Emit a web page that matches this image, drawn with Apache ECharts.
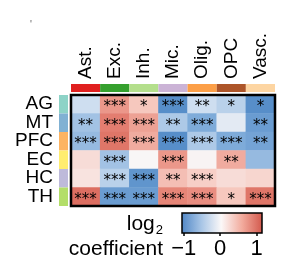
<!DOCTYPE html>
<html><head><meta charset="utf-8">
<script src="https://cdn.jsdelivr.net/npm/echarts@6/dist/echarts.min.js"></script>
<style>html,body{margin:0;padding:0;background:#fff}#c{width:289px;height:270px}</style>
</head><body><div id="c"></div>
<script>
const cellTypes = ['Ast.', 'Exc.', 'Inh.', 'Mic.', 'Olig.', 'OPC', 'Vasc.'];
const regions = ['AG', 'MT', 'PFC', 'EC', 'HC', 'TH'];
const cellTypeColors = ['#e0201f', '#35a02e', '#b4df8c', '#cbb3d6', '#fc9f47', '#ad5529', '#fdd5a2'];
const regionColors = ['#8dd3c7', '#80b1d3', '#fdb462', '#ffed6f', '#bebada', '#b3de69'];
// log2 coefficients, rows = regions, cols = cell types
const AG  = [-0.30, 0.60, 0.35, -0.85, -0.30, -0.40, -0.85];
const MT  = [-0.50, 0.75, 0.55, -0.45, -0.65, -0.15, -0.75];
const PFC = [-0.55, 0.80, 0.50, -0.85, -0.45, -0.65, -0.70];
const EC  = [ 0.20, -0.50, 0.00, 0.60, 0.02, 0.50, -0.55];
const HC  = [ 0.15, -0.40, -0.80, 0.40, 0.30, 0.20, 0.25];
const TH  = [ 0.85, -0.75, -0.75, 0.70, 0.65, 0.35, 0.80];
const sigAG  = ['', '***', '*', '***', '**', '*', '*'];
const sigMT  = ['**', '***', '***', '**', '***', '', '**'];
const sigPFC = ['***', '***', '***', '***', '***', '***', '**'];
const sigEC  = ['', '***', '', '***', '', '**', ''];
const sigHC  = ['', '***', '***', '**', '***', '', ''];
const sigTH  = ['***', '***', '***', '***', '***', '*', '***'];
const colorbarTicks = [-1, 0, 1];

const values = [AG, MT, PFC, EC, HC, TH];
const sigs = [sigAG, sigMT, sigPFC, sigEC, sigHC, sigTH];
const heatData = [];
values.forEach((row, r) => row.forEach((v, c) => heatData.push([c, r, v, sigs[r][c]])));

const HM = {left: 71, top: 95, width: 204, height: 111};
const font = 'Liberation Sans, Arial, sans-serif';
const rampColors = ['#3a78bd', '#7aa8d8', '#c9dbef', '#f8f6f6', '#f7cbc2', '#e88a7c', '#d2574b'];

const chart = echarts.init(document.getElementById('c'));
chart.setOption({
  animation: false,
  grid: [
    {left: HM.left, top: HM.top, width: HM.width, height: HM.height},
    {left: HM.left, top: 84, width: HM.width, height: 8},
    {left: 59, top: HM.top, width: 9, height: HM.height},
    {left: 182, top: 213, width: 80, height: 20, show: true, borderColor: '#000', borderWidth: 1.5,
     backgroundColor: new echarts.graphic.LinearGradient(0, 0, 1, 0, [
       {offset: 0, color: '#4f86c6'}, {offset: 0.25, color: '#a9c6e6'},
       {offset: 0.49, color: '#fbf8f8'}, {offset: 0.75, color: '#f2aa9c'},
       {offset: 1, color: '#d2574b'}])}
  ],
  xAxis: [
    {gridIndex: 0, type: 'category', data: cellTypes, show: false},
    {gridIndex: 1, type: 'category', data: cellTypes, position: 'top',
     axisLine: {show: false}, axisTick: {show: false},
     axisLabel: {interval: 0, rotate: 90, margin: 5, fontSize: 19, color: '#000', fontFamily: font}},
    {gridIndex: 2, type: 'value', min: 0, max: 1, show: false},
    {gridIndex: 3, type: 'value', min: -1.05, max: 1.15, splitLine: {show: false},
     axisLine: {show: false},
     axisTick: {show: true, customValues: colorbarTicks, length: 3, lineStyle: {color: '#000', width: 1.5}},
     axisLabel: {customValues: colorbarTicks, margin: 5, fontSize: 22, color: '#000', fontFamily: font,
       formatter: v => v < 0 ? '\u2212' + Math.abs(v) : String(v)}}
  ],
  yAxis: [
    {gridIndex: 0, type: 'category', data: regions, inverse: true, show: false},
    {gridIndex: 1, type: 'value', min: 0, max: 1, show: false},
    {gridIndex: 2, type: 'category', data: regions, inverse: true,
     axisLine: {show: false}, axisTick: {show: false},
     axisLabel: {interval: 0, margin: 6, fontSize: 19, lineHeight: 19, color: '#000', fontFamily: font, padding: [4, 0, 0, 0]}},
    {gridIndex: 3, type: 'value', min: 0, max: 1, show: false}
  ],
  visualMap: {show: false, min: -1, max: 1, dimension: 2, seriesIndex: 0, inRange: {color: rampColors}},
  series: [
    {type: 'heatmap', xAxisIndex: 0, yAxisIndex: 0, data: heatData,
     label: {show: true, formatter: p => p.data[3], color: '#000', fontSize: 15,
       fontFamily: 'DejaVu Sans', offset: [0, 3]}},
    {type: 'bar', xAxisIndex: 1, yAxisIndex: 1, barWidth: '100%',
     data: cellTypeColors.map(c => ({value: 1, itemStyle: {color: c}}))},
    {type: 'bar', xAxisIndex: 2, yAxisIndex: 2, barWidth: '100%',
     data: regionColors.map(c => ({value: 1, itemStyle: {color: c}}))}
  ],
  graphic: [
    {type: 'rect', z: 100, shape: {x: HM.left, y: HM.top, width: HM.width, height: HM.height},
     style: {fill: 'none', stroke: '#000', lineWidth: 2.5}},
    {type: 'text', left: 30, top: 20, style: {text: "'", fontSize: 10, fill: '#666', fontFamily: font}},
    {type: 'text', x: 163, y: 224, style: {text: '{a|log}{s|2}', align: 'right', verticalAlign: 'middle',
      rich: {a: {fontSize: 21, fontFamily: font, fill: '#000'},
             s: {fontSize: 13, fontFamily: font, fill: '#000', padding: [12, 0, 0, 1]}}}},
    {type: 'text', x: 163, y: 249, style: {text: 'coefficient', align: 'right', verticalAlign: 'middle',
      fontSize: 21, fontFamily: font, fill: '#000'}}
  ]
});
</script></body></html>
